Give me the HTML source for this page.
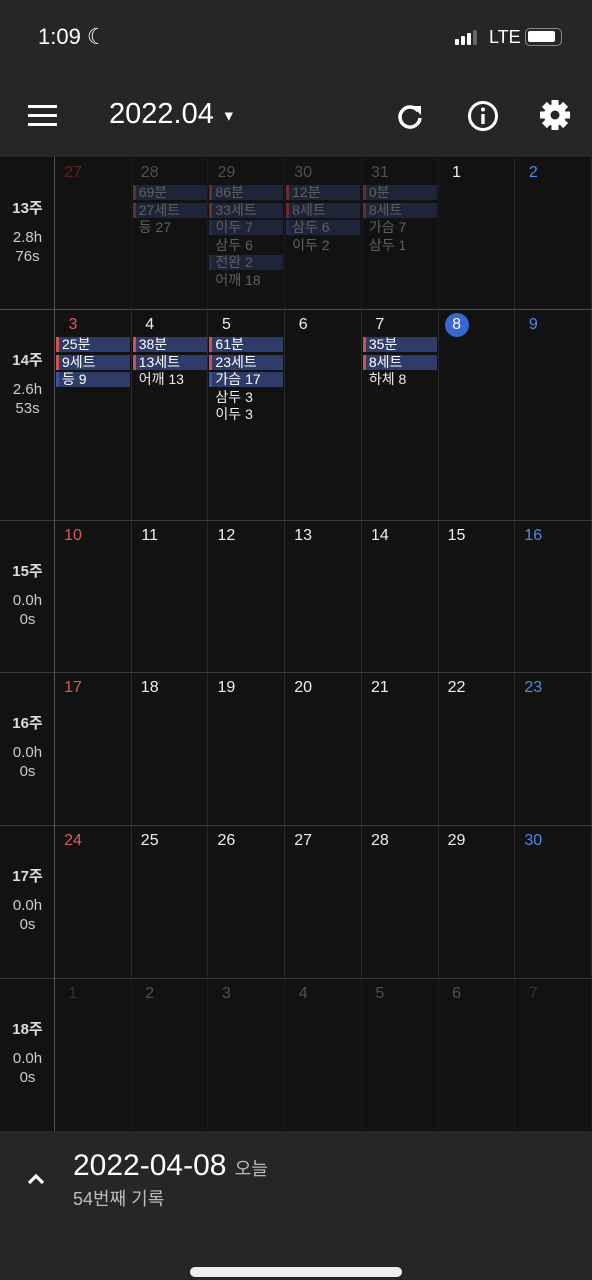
<!DOCTYPE html>
<html><head><meta charset="utf-8">
<style>
*{box-sizing:border-box;margin:0;padding:0}
body{width:592px;height:1280px;background:#121212;font-family:"Liberation Sans","Noto Sans CJK KR",sans-serif;color:#eee;position:relative;overflow:hidden}
.hdr{position:absolute;left:0;top:0;width:592px;height:157px;background:#262626}
.abs{position:absolute}
.cell{position:absolute;border-right:1px solid #2a2a2a}
.dn{position:absolute;font-size:16px;top:6px;width:36px;text-align:center;left:0}
.tag{position:absolute;left:1px;width:74px;height:15px;font-size:14px;line-height:15px;padding-left:6px;white-space:nowrap}
.wk{position:absolute;left:0;width:55px;text-align:center;color:#ccc}
.hl{position:absolute;left:0;width:592px;height:1px;background:#3a3a3a}
.bot{position:absolute;left:0;top:1131px;width:592px;height:149px;background:#262626}
</style></head><body>
<div class="hdr">
  <div class="abs" style="left:38px;top:24px;font-size:22px;color:#fff">1:09 ☾</div>
  <div class="abs" style="left:455px;top:30px;width:4px;height:15px">
    <span class="abs" style="left:0;top:9px;width:4px;height:6px;background:#fff;border-radius:1px"></span>
    <span class="abs" style="left:6px;top:6px;width:4px;height:9px;background:#fff;border-radius:1px"></span>
    <span class="abs" style="left:12px;top:3px;width:4px;height:12px;background:#fff;border-radius:1px"></span>
    <span class="abs" style="left:18px;top:0;width:4px;height:15px;background:#666;border-radius:1px"></span>
  </div>
  <div class="abs" style="left:489px;top:27px;font-size:18px;color:#fff">LTE</div>
  <div class="abs" style="left:525px;top:28px;width:37px;height:18px;border:1.5px solid #888;border-radius:5px"><div style="margin:2px;height:11px;width:27px;background:#fff;border-radius:2px"></div></div>
  <div class="abs" style="left:28px;top:105px;width:29px">
    <div style="height:3px;background:#fff;margin-bottom:6px"></div><div style="height:3px;background:#fff;margin-bottom:6px"></div><div style="height:3px;background:#fff"></div></div>
  <div class="abs" style="left:109px;top:98px;font-size:29px;color:#fff">2022.04 <span style="font-size:14px;vertical-align:middle">▼</span></div>
  <svg class="abs" style="left:394px;top:100px" width="32" height="32" viewBox="0 0 32 32"><path d="M24 11 A10 10 0 1 0 26 18" fill="none" stroke="#fff" stroke-width="3.5"/><path d="M18 6 L27 6 L27 15 Z" fill="#fff"/></svg>
  <svg class="abs" style="left:466px;top:99px" width="34" height="34" viewBox="0 0 34 34"><circle cx="17" cy="17" r="13.5" fill="none" stroke="#fff" stroke-width="3"/><rect x="15.3" y="15" width="3.4" height="10" fill="#fff"/><circle cx="17" cy="10.5" r="2" fill="#fff"/></svg>
  <svg class="abs" style="left:538px;top:98px" width="34" height="34" viewBox="0 0 34 34"><g fill="#fff" transform="translate(17 17)"><circle r="11"/><g id="t"><rect x="-3.5" y="-15" width="7" height="8"/></g><use href="#t" transform="rotate(45)"/><use href="#t" transform="rotate(90)"/><use href="#t" transform="rotate(135)"/><use href="#t" transform="rotate(180)"/><use href="#t" transform="rotate(225)"/><use href="#t" transform="rotate(270)"/><use href="#t" transform="rotate(315)"/></g><circle cx="17" cy="17" r="4.5" fill="#262626"/></svg>
</div>
<div id="cal"></div>
<div class="abs" style="left:54px;top:157px;width:1px;height:974px;background:#555"></div>
<div class="bot">
  <svg class="abs" style="left:26px;top:41px" width="20" height="14" viewBox="0 0 20 14"><path d="M3 11 L10 4 L17 11" fill="none" stroke="#fff" stroke-width="3.2"/></svg>
  <div class="abs" style="left:73px;top:18px;font-size:30px;color:#fff">2022-04-08 <span style="font-size:18px;color:#bbb">오늘</span></div>
  <div class="abs" style="left:73px;top:54px;font-size:18px;color:#bbb">54번째 기록</div>
  <div class="abs" style="left:190px;top:136px;width:212px;height:10px;background:#eee;border-radius:5px"></div>
</div>
<script>
const weekLabels=["13주","14주","15주","16주","17주","18주"];
const weekHours=["2.8h","2.6h","0.0h","0.0h","0.0h","0.0h"];
const weekSets=["76s","53s","0s","0s","0s","0s"];
const dayNums=[[27,28,29,30,31,1,2],[3,4,5,6,7,8,9],[10,11,12,13,14,15,16],[17,18,19,20,21,22,23],[24,25,26,27,28,29,30],[1,2,3,4,5,6,7]];
const dimDays=[[1,1,1,1,1,0,0],[0,0,0,0,0,0,0],[0,0,0,0,0,0,0],[0,0,0,0,0,0,0],[0,0,0,0,0,0,0],[1,1,1,1,1,1,1]];
// entries: [text, kind] kind r=red bar, b=blue bar, p=plain
const entries={
 "0-1":[["69분","r"],["27세트","r"],["등 27","p"]],
 "0-2":[["86분","r"],["33세트","r"],["이두 7","b"],["삼두 6","p"],["전완 2","b"],["어깨 18","p"]],
 "0-3":[["12분","r"],["8세트","r"],["삼두 6","b"],["이두 2","p"]],
 "0-4":[["0분","r"],["8세트","r"],["가슴 7","p"],["삼두 1","p"]],
 "1-0":[["25분","r"],["9세트","r"],["등 9","b"]],
 "1-1":[["38분","r"],["13세트","r"],["어깨 13","p"]],
 "1-2":[["61분","r"],["23세트","r"],["가슴 17","b"],["삼두 3","p"],["이두 3","p"]],
 "1-4":[["35분","r"],["8세트","r"],["하체 8","p"]]
};
const today=[1,5];
const rowTops=[157,309,520,672,825,978,1131];
const colW=(592-55)/7;
const cal=document.getElementById('cal');
for(let w=0;w<6;w++){
  const top=rowTops[w],h=rowTops[w+1]-top;
  const hl=document.createElement('div');hl.className='hl';hl.style.top=top+'px';
  if(w>0){hl.style.background=w==1?'#4a4a4a':'#3a3a3a';}else hl.style.background='#111';
  
  
  cal.appendChild(hl);
  const wk=document.createElement('div');wk.className='wk';wk.style.top=(top+40)+'px';
  wk.innerHTML='<div style="font-size:15px;font-weight:bold;color:#ddd;margin-bottom:10px">'+weekLabels[w]+'</div><div style="font-size:15px;line-height:19px">'+weekHours[w]+'<br>'+weekSets[w]+'</div>';
  
  
  cal.appendChild(wk);
  for(let d=0;d<7;d++){
    const c=document.createElement('div');c.className='cell';
    c.style.left=(55+d*colW)+'px';c.style.top=(top+1)+'px';c.style.width=colW+'px';c.style.height=(h-1)+'px';
    
    
    const dim=dimDays[w][d];
    c.style.opacity=dim?0.45:1;
    const n=document.createElement('div');n.className='dn';
    n.textContent=dayNums[w][d];
    let col=d==0?'#e05a5a':d==6?'#4a8ee8':'#eee';
    if(dim&&d!=0&&d!=6)col='#999';
    if(dim&&d==0)col='#b04040';if(dim&&d==6)col='#3a5aa0';
    n.style.color=col;
    if(today[0]==w&&today[1]==d){n.style.background='#3a66d0';n.style.color='#fff';n.style.width='24px';n.style.height='24px';n.style.borderRadius='12px';n.style.lineHeight='24px';n.style.top='3px';n.style.left='6px';}
    
    
    c.appendChild(n);
    const es=entries[w+'-'+d]||[];
    es.forEach((e,i)=>{
      const t=document.createElement('div');t.className='tag';t.style.top=(27+i*17.5)+'px';t.textContent=e[0];
      t.style.color=dim?'#bbb':'#fff';
      if(e[1]=='r'){t.style.background='#2f3c6a';t.style.borderLeft='3px solid #d05050';t.style.paddingLeft='3px';}
      else if(e[1]=='b'){t.style.background='#2f3c6a';t.style.borderLeft='3px solid #3a50a0';t.style.paddingLeft='3px';}
      else {t.style.paddingLeft='6px';t.style.color=dim?'#bbb':'#eee';}
      
      
      c.appendChild(t);
    });
    cal.appendChild(c);
  }
}
const last=document.createElement('div');last.className='hl';last.style.top='1131px';


cal.appendChild(last);
</script>
</body></html>
